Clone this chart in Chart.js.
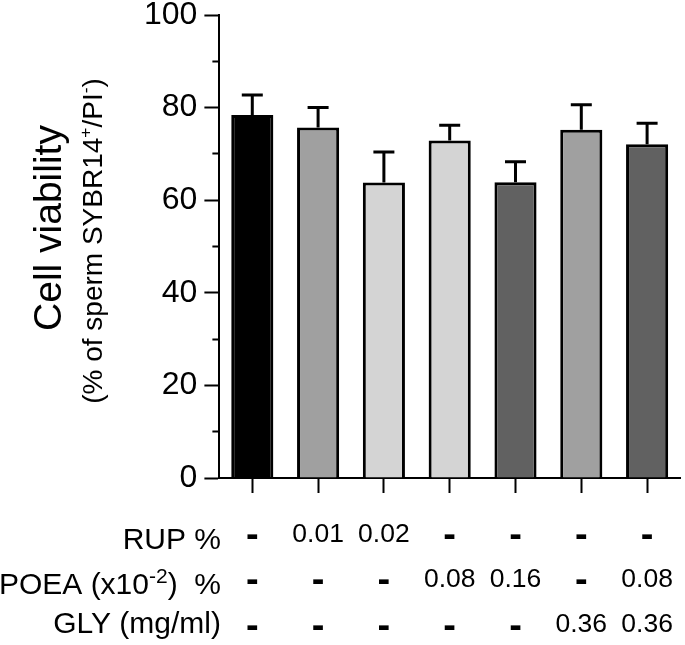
<!DOCTYPE html>
<html>
<head>
<meta charset="utf-8">
<script src="https://cdn.jsdelivr.net/npm/chart.js@4.4.1/dist/chart.umd.min.js"></script>
<style>
    html, body { margin: 0; padding: 0; background: #fff; }
    #chart-viability { display: block; }
</style>
</head>
<body>
<canvas id="chart-viability" width="685" height="645"></canvas>
<script>
    // treatment groups (one bar each)
    const categories = ['Control', 'RUP 0.01', 'RUP 0.02', 'POEA 0.08', 'POEA 0.16', 'GLY 0.36', 'GLY+POEA'];
    const rupDose = ['-', '0.01', '0.02', '-', '-', '-', '-'];
    const poeaDose = ['-', '-', '-', '0.08', '0.16', '-', '0.08'];
    const glyDose = ['-', '-', '-', '-', '-', '0.36', '0.36'];
    // mean viability and SD (%)
    const viability = [78.4, 75.7, 63.8, 72.9, 63.9, 75.2, 72.1];
    const viabilitySd = [4.3, 4.3, 6.6, 3.3, 4.4, 5.4, 4.5];
    const yTicks = [0, 20, 40, 60, 80, 100];

    const barColors = ['#000000', '#a0a0a0', '#d4d4d4', '#d4d4d4', '#616161', '#a0a0a0', '#616161'];
    const FONT = '"Liberation Sans", Arial, sans-serif';

    // draw a string with superscript parts; parts = [[text, isSup], ...]
    function partsWidth(ctx, parts, size, supScale) {
        let w = 0;
        parts.forEach(([t, sup]) => {
            ctx.font = (sup ? size * supScale : size) + 'px ' + FONT;
            w += ctx.measureText(t).width;
        });
        return w;
    }
    function drawParts(ctx, parts, x, y, size, supScale) {
        let cx = x;
        parts.forEach(([t, sup]) => {
            ctx.font = (sup ? size * supScale : size) + 'px ' + FONT;
            ctx.fillText(t, cx, sup ? y - size * 0.38 : y);
            cx += ctx.measureText(t).width;
        });
    }

    const errorBars = {
        id: 'errorBars',
        afterDatasetsDraw(chart) {
            const ctx = chart.ctx;
            const y = chart.scales.y;
            const meta = chart.getDatasetMeta(0);
            ctx.save();
            ctx.strokeStyle = '#000';
            ctx.lineWidth = 3;
            meta.data.forEach((bar, i) => {
                const top = y.getPixelForValue(viability[i] + viabilitySd[i]);
                ctx.beginPath();
                ctx.moveTo(bar.x, bar.y);
                ctx.lineTo(bar.x, top);
                ctx.moveTo(bar.x - 10.5, top);
                ctx.lineTo(bar.x + 10.5, top);
                ctx.stroke();
            });
            ctx.restore();
        }
    };

    const axisTexts = {
        id: 'axisTexts',
        afterDraw(chart) {
            const ctx = chart.ctx;
            const x = chart.scales.x;
            ctx.save();
            ctx.fillStyle = '#000';
            ctx.textBaseline = 'alphabetic';

            // y titles, rotated
            ctx.save();
            ctx.translate(61, 228);
            ctx.rotate(-Math.PI / 2);
            ctx.textAlign = 'center';
            ctx.font = '39px ' + FONT;
            ctx.fillText('Cell viability', 0, 0);
            ctx.restore();

            ctx.save();
            ctx.translate(102, 241);
            ctx.rotate(-Math.PI / 2);
            ctx.textAlign = 'left';
            const sub = [['(% of sperm SYBR14', false], ['+', true], ['/PI', false], ['-', true], [')', false]];
            const sw = partsWidth(ctx, sub, 28, 0.62);
            drawParts(ctx, sub, -sw / 2, 0, 28, 0.62);
            ctx.restore();

            // treatment table under the x axis
            const labelRight = 221;
            const rows = [
                { parts: [['RUP %', false]], base: 549, valBase: 542, dashY: 537, vals: rupDose },
                { parts: [['POEA (x10', false], ['-2', true], [')  %', false]], base: 594, valBase: 587, dashY: 582, vals: poeaDose },
                { parts: [['GLY (mg/ml)', false]], base: 633, valBase: 632, dashY: 628, vals: glyDose }
            ];
            rows.forEach(r => {
                const w = partsWidth(ctx, r.parts, 30, 0.7);
                ctx.textAlign = 'left';
                drawParts(ctx, r.parts, labelRight - w, r.base, 30, 0.7);
                ctx.textAlign = 'center';
                r.vals.forEach((v, i) => {
                    const px = x.getPixelForValue(i);
                    if (v === '-') {
                        ctx.font = 'bold 38px ' + FONT;
                        ctx.fillText('-', px, r.dashY + 10);
                    } else {
                        ctx.font = '26.5px ' + FONT;
                        ctx.fillText(v, px, r.valBase);
                    }
                });
            });
            ctx.restore();
        }
    };

    Chart.defaults.font.family = FONT;
    Chart.defaults.color = '#000';

    new Chart(document.getElementById('chart-viability'), {
        type: 'bar',
        data: {
            labels: categories,
            datasets: [{
                data: viability,
                backgroundColor: barColors,
                borderColor: '#000',
                borderWidth: 3,
                borderSkipped: 'start',
                barPercentage: 0.64,
                categoryPercentage: 1
            }]
        },
        options: {
            responsive: false,
            animation: false,
            devicePixelRatio: 1,
            layout: { padding: { left: 137, right: 5, top: 15, bottom: 152 } },
            plugins: { legend: { display: false }, tooltip: { enabled: false } },
            scales: {
                x: {
                    offset: true,
                    grid: { offset: false, drawOnChartArea: false, tickLength: 15, tickWidth: 2, tickColor: '#000' },
                    border: { color: '#000', width: 2 },
                    ticks: { display: false }
                },
                y: {
                    min: 0,
                    max: 100,
                    afterBuildTicks(scale) {
                        const t = [];
                        for (let v = 0; v <= 100; v += 10) t.push({ value: v });
                        scale.ticks = t;
                    },
                    grid: {
                        drawOnChartArea: false,
                        tickLength: 15,
                        tickWidth: 2,
                        tickColor: '#000',
                        // minor ticks: only the inner 7px is drawn
                        tickBorderDash: ctx => yTicks.includes(ctx.tick.value) ? [] : [0, 8, 7, 100]
                    },
                    border: { color: '#000', width: 2 },
                    ticks: {
                        autoSkip: false,
                        padding: 7,
                        font: { size: 32, lineHeight: 0.5 },
                        color: '#000',
                        callback: v => yTicks.includes(v) ? String(v) : ''
                    }
                }
            }
        },
        plugins: [errorBars, axisTexts]
    });
</script>
</body>
</html>
